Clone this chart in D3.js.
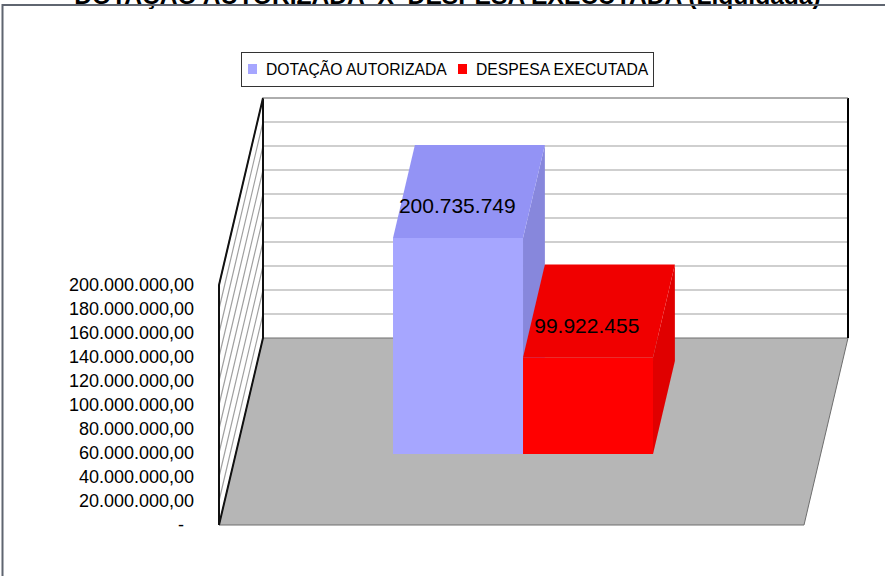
<!DOCTYPE html>
<html>
<head>
<meta charset="utf-8">
<script src="https://cdn.jsdelivr.net/npm/d3@7"></script>
<style>
html, body { margin: 0; padding: 0; background: #fff; overflow: hidden; }
text { font-family: "Liberation Sans", Arial, sans-serif; fill: #000; white-space: pre; }
</style>
</head>
<body>
<script>
const titleText = "DOTAÇÃO AUTORIZADA  X  DESPESA EXECUTADA (Liquidada)";
const seriesNames = ["DOTAÇÃO AUTORIZADA", "DESPESA EXECUTADA"];
// height of each bar as read on the axis (the drawn bars do not follow the labels)
const drawnValues = [180000000, 80400000];
const valueLabels = ["200.735.749", "99.922.455"];
const frontColors = ["#a6a6ff", "#ff0000"];
const topColors = ["#9393f5", "#f00000"];
const sideColors = ["#8787dc", "#e00000"];
const tickValues = [0, 20000000, 40000000, 60000000, 80000000, 100000000,
    120000000, 140000000, 160000000, 180000000, 200000000];
const tickLabels = ["-  ", "20.000.000,00", "40.000.000,00", "60.000.000,00", "80.000.000,00",
    "100.000.000,00", "120.000.000,00", "140.000.000,00", "160.000.000,00", "180.000.000,00",
    "200.000.000,00"];

const width = 885, height = 576;

const svg = d3.select("body").append("svg")
    .attr("width", width)
    .attr("height", height)
    .style("display", "block");

// front plane scales, depth is 0 at the front edge and 1 at the back wall
const y = d3.scaleLinear().domain([0, 200000000]).range([525, 285]);
const floorX = d3.scaleLinear().domain([0, 1]).range([219, 804]);
const depthX = d3.scaleLinear().domain([0, 1]).range([0, 44]);
const depthY = d3.scaleLinear().domain([0, 1]).range([0, -187]);
const barX = d3.scaleBand().domain(seriesNames).range([376.3, 636.3]);
const barDepth = [0.38, 0.877];

const line = d3.line();
const pt = (px, value, depth) => [px + depthX(depth), y(value) + depthY(depth)];
const poly = pts => line(pts) + "Z";

svg.append("text")
    .attr("x", 447.5)
    .attr("y", 4)
    .attr("text-anchor", "middle")
    .style("font-size", "24.6px")
    .style("font-weight", "bold")
    .text(titleText);

svg.append("path")
    .attr("d", "M2.5,576V5H885")
    .attr("fill", "none")
    .attr("stroke", "#5f6570")
    .attr("stroke-width", 2);

const xL = floorX(0), xR = floorX(1), maxValue = 200000000;

// back wall
svg.append("path")
    .attr("d", poly([pt(xL, 0, 1), pt(xL, maxValue, 1), pt(xR, maxValue, 1), pt(xR, 0, 1)]))
    .attr("fill", "#fff");

// left wall
svg.append("path")
    .attr("d", poly([pt(xL, 0, 0), pt(xL, maxValue, 0), pt(xL, maxValue, 1), pt(xL, 0, 1)]))
    .attr("fill", "#fff");

// gridlines run along the left wall then across the back wall
svg.append("g").selectAll("path")
    .data(tickValues.slice(1))
    .enter().append("path")
    .attr("d", d => line([pt(xL, d, 0), pt(xL, d, 1), pt(xR, d, 1)]))
    .attr("fill", "none")
    .attr("stroke", "#a0a0a0")
    .attr("stroke-width", 1.2);

// floor
svg.append("path")
    .attr("d", poly([pt(xL, 0, 0), pt(xL, 0, 1), pt(xR, 0, 1), pt(xR, 0, 0)]))
    .attr("fill", "#b6b6b6")
    .attr("stroke", "#6e6e6e")
    .attr("stroke-width", 1);

// wall edges
svg.append("path")
    .attr("d", line([pt(xL, 0, 0), pt(xL, maxValue, 0), pt(xL, maxValue, 1), pt(xL, 0, 1), pt(xL, 0, 0)]))
    .attr("fill", "none")
    .attr("stroke", "#111")
    .attr("stroke-width", 2);
svg.append("path")
    .attr("d", line([pt(xR, 0, 1), pt(xR, maxValue, 1)]))
    .attr("fill", "none")
    .attr("stroke", "#000")
    .attr("stroke-width", 2);
svg.append("path")
    .attr("d", line([pt(xL, maxValue, 1), pt(xR, maxValue, 1)]))
    .attr("fill", "none")
    .attr("stroke", "#8c8c8c")
    .attr("stroke-width", 1);

// bars, drawn left to right so the red front covers the blue side
const bars = svg.append("g").selectAll("g")
    .data(seriesNames)
    .enter().append("g");

bars.each(function(name, i) {
    const g = d3.select(this);
    const x0 = barX(name), x1 = x0 + barX.bandwidth();
    const v = drawnValues[i];
    const d0 = barDepth[0], d1 = barDepth[1];
    g.append("path")
        .attr("d", poly([pt(x1, 0, d0), pt(x1, v, d0), pt(x1, v, d1), pt(x1, 0, d1)]))
        .attr("fill", sideColors[i]);
    g.append("path")
        .attr("d", poly([pt(x0, v, d0), pt(x0, v, d1), pt(x1, v, d1), pt(x1, v, d0)]))
        .attr("fill", topColors[i]);
    g.append("path")
        .attr("d", poly([pt(x0, 0, d0), pt(x0, v, d0), pt(x1, v, d0), pt(x1, 0, d0)]))
        .attr("fill", frontColors[i]);
});

// value labels sit on the top faces
svg.append("g").selectAll("text")
    .data(valueLabels)
    .enter().append("text")
    .attr("x", (d, i) => barX(seriesNames[i]) + barX.bandwidth() / 2 + [16, 15.5][i])
    .attr("y", (d, i) => y(drawnValues[i]) + depthY(barDepth[0]) - 24.5)
    .attr("text-anchor", "middle")
    .style("font-size", "21px")
    .text(d => d);

// value axis
const yAxis = d3.axisLeft(y)
    .tickValues(tickValues)
    .tickSize(0)
    .tickPadding(25)
    .tickFormat((d, i) => tickLabels[i]);

const axisG = svg.append("g")
    .attr("transform", "translate(219,0)")
    .call(yAxis);
axisG.select(".domain").remove();
axisG.selectAll("text")
    .style("font-family", '"Liberation Sans", Arial, sans-serif')
    .style("font-size", "18px");

// legend
const legend = svg.append("g");
legend.append("rect")
    .attr("x", 241.5).attr("y", 52.5)
    .attr("width", 412).attr("height", 34)
    .attr("fill", "#fff")
    .attr("stroke", "#333")
    .attr("stroke-width", 1);

const legendItems = legend.selectAll("g")
    .data(seriesNames)
    .enter().append("g")
    .attr("transform", (d, i) => "translate(" + [248, 458][i] + ",0)");
legendItems.append("rect")
    .attr("y", 64).attr("width", 9).attr("height", 10)
    .attr("fill", (d, i) => frontColors[i]);
legendItems.append("text")
    .attr("x", 18)
    .attr("y", 75)
    .style("font-size", "15.7px")
    .text(d => d);
</script>
</body>
</html>
